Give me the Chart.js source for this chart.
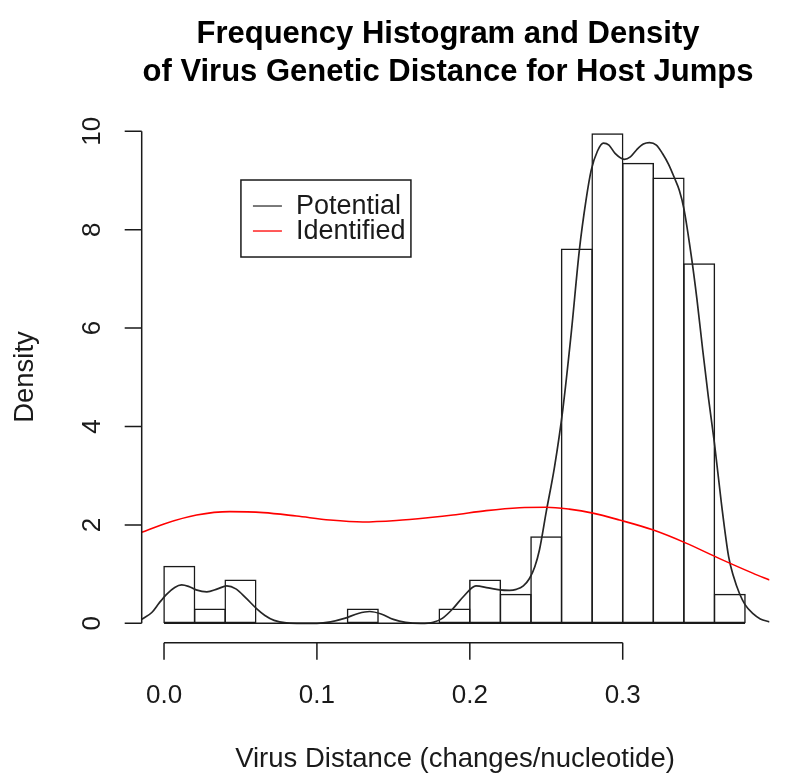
<!DOCTYPE html>
<html>
<head>
<meta charset="utf-8">
<script src="https://cdn.jsdelivr.net/npm/chart.js@4.4.1/dist/chart.umd.min.js"></script>
<style>
  html, body { margin: 0; padding: 0; background: #fff; }
  canvas { display: block; }
</style>
</head>
<body>
<canvas id="hist" width="785" height="776"></canvas>
<script>
// histogram bins (width 0.02) and their density
const binMids = [0.01, 0.03, 0.05, 0.07, 0.09, 0.11, 0.13, 0.15, 0.17, 0.19, 0.21, 0.23, 0.25, 0.27, 0.29, 0.31, 0.33, 0.35, 0.37];
const histDensity = [1.17, 0.30, 0.89, 0, 0, 0, 0.30, 0, 0, 0.30, 0.89, 0.60, 1.77, 7.62, 9.96, 9.36, 9.06, 7.32, 0.60];

// kernel density of the potential host jumps (black)
const potentialX = [-0.0146, -0.008, -0.003, 0.002, 0.007, 0.0115, 0.016, 0.021, 0.028, 0.035, 0.041, 0.047, 0.054, 0.0605, 0.066, 0.072, 0.080, 0.090, 0.100, 0.109, 0.118, 0.127, 0.1345, 0.142, 0.150, 0.158, 0.168, 0.176, 0.182, 0.189, 0.196, 0.204, 0.212, 0.2195, 0.226, 0.2304, 0.235, 0.239, 0.2425, 0.2456, 0.250, 0.2554, 0.2608, 0.2663, 0.2717, 0.276, 0.2794, 0.2835, 0.2874, 0.291, 0.295, 0.301, 0.305, 0.309, 0.3135, 0.3175, 0.322, 0.326, 0.330, 0.334, 0.337, 0.340, 0.3447, 0.3485, 0.3523, 0.356, 0.360, 0.3645, 0.3693, 0.3725, 0.3763, 0.380, 0.385, 0.390, 0.396];
const potentialY = [0.08, 0.22, 0.42, 0.60, 0.73, 0.78, 0.75, 0.68, 0.64, 0.70, 0.76, 0.70, 0.50, 0.30, 0.16, 0.06, 0.01, 0.0, 0.0, 0.03, 0.10, 0.20, 0.24, 0.19, 0.08, 0.02, 0.0, 0.02, 0.10, 0.30, 0.55, 0.76, 0.72, 0.68, 0.67, 0.69, 0.76, 0.91, 1.15, 1.50, 2.27, 3.18, 4.34, 5.89, 7.60, 8.60, 9.21, 9.60, 9.76, 9.72, 9.55, 9.43, 9.48, 9.62, 9.74, 9.77, 9.72, 9.55, 9.33, 9.04, 8.80, 8.43, 7.50, 6.60, 5.56, 4.60, 3.66, 2.45, 1.35, 0.95, 0.61, 0.38, 0.20, 0.09, 0.03];

// kernel density of the identified host jumps (red)
const identifiedX = [-0.0146, 0.0, 0.0213, 0.043, 0.065, 0.0867, 0.1084, 0.130, 0.152, 0.174, 0.189, 0.2107, 0.2325, 0.250, 0.265, 0.2804, 0.2978, 0.3196, 0.3414, 0.363, 0.385, 0.396];
const identifiedY = [1.85, 2.02, 2.20, 2.27, 2.25, 2.18, 2.10, 2.06, 2.09, 2.15, 2.20, 2.29, 2.35, 2.36, 2.32, 2.24, 2.10, 1.90, 1.63, 1.32, 1.02, 0.88];

const xTicks = [0.0, 0.1, 0.2, 0.3];
const yTicks = [0, 2, 4, 6, 8, 10];
const seriesNames = ['Potential', 'Identified'];
const titleLines = ['Frequency Histogram and Density', 'of Virus Genetic Distance for Host Jumps'];

const FONT = '"Liberation Sans", Arial, Helvetica, sans-serif';
const INK = '#1a1a1a';

const toPoints = (xs, ys) => xs.map((v, i) => ({ x: v, y: ys[i] }));

// R style base-graphics axes, titles and legend
const rDecor = {
  id: 'rDecor',
  afterDraw(chart) {
    const { ctx, chartArea, scales } = chart;
    const xs = scales.x, ys = scales.y;
    ctx.save();
    ctx.strokeStyle = INK;
    ctx.fillStyle = INK;

    // baseline under the histogram (zero bins are drawn as flat rects in R)
    const y0 = ys.getPixelForValue(0);
    ctx.lineWidth = 1.5;
    ctx.beginPath();
    ctx.moveTo(xs.getPixelForValue(binMids[0] - 0.01), y0);
    ctx.lineTo(xs.getPixelForValue(binMids[binMids.length - 1] + 0.01), y0);
    ctx.stroke();

    // x axis
    const ay = chartArea.bottom;
    ctx.beginPath();
    ctx.moveTo(xs.getPixelForValue(xTicks[0]), ay);
    ctx.lineTo(xs.getPixelForValue(xTicks[xTicks.length - 1]), ay);
    xTicks.forEach(t => {
      const px = xs.getPixelForValue(t);
      ctx.moveTo(px, ay);
      ctx.lineTo(px, ay + 17);
    });
    ctx.stroke();
    ctx.font = '26px ' + FONT;
    ctx.textAlign = 'center';
    ctx.textBaseline = 'alphabetic';
    xTicks.forEach(t => {
      ctx.fillText(t.toFixed(1), xs.getPixelForValue(t), 703);
    });

    // y axis
    const ax = chartArea.left;
    ctx.beginPath();
    ctx.moveTo(ax, ys.getPixelForValue(yTicks[0]));
    ctx.lineTo(ax, ys.getPixelForValue(yTicks[yTicks.length - 1]));
    yTicks.forEach(t => {
      const py = ys.getPixelForValue(t);
      ctx.moveTo(ax, py);
      ctx.lineTo(ax - 17, py);
    });
    ctx.stroke();
    yTicks.forEach(t => {
      ctx.save();
      ctx.translate(100, ys.getPixelForValue(t));
      ctx.rotate(-Math.PI / 2);
      ctx.fillText(String(t), 0, 0);
      ctx.restore();
    });

    // axis titles
    ctx.font = '27.5px ' + FONT;
    ctx.fillText('Virus Distance (changes/nucleotide)', 455, 767);
    ctx.save();
    ctx.translate(33, 377);
    ctx.rotate(-Math.PI / 2);
    ctx.fillText('Density', 0, 0);
    ctx.restore();

    // main title
    ctx.font = 'bold 31px ' + FONT;
    ctx.fillStyle = '#000';
    ctx.fillText(titleLines[0], 448, 43);
    ctx.fillText(titleLines[1], 448, 81);

    // legend box, anchored in data coordinates like legend(x, y)
    const lx = xs.getPixelForValue(0.0503);
    const ly = ys.getPixelForValue(9.01);
    ctx.lineWidth = 1.5;
    ctx.strokeStyle = INK;
    ctx.strokeRect(lx, ly, 170, 77);
    const colors = ['#333333', '#ff0000'];
    ctx.font = '27px ' + FONT;
    ctx.textAlign = 'left';
    ctx.textBaseline = 'middle';
    seriesNames.forEach((name, i) => {
      const ry = ly + 26 + i * 25;
      ctx.strokeStyle = colors[i];
      ctx.lineWidth = 1.3;
      ctx.beginPath();
      ctx.moveTo(lx + 12, ry);
      ctx.lineTo(lx + 41, ry);
      ctx.stroke();
      ctx.fillStyle = INK;
      ctx.fillText(name, lx + 55, ry + 1);
    });
    ctx.restore();
  }
};

const ctx = document.getElementById('hist');
new Chart(ctx, {
  type: 'bar',
  data: {
    datasets: [
      {
        type: 'bar',
        data: toPoints(binMids, histDensity),
        backgroundColor: 'rgba(0,0,0,0)',
        borderColor: INK,
        borderWidth: 1.5,
        borderSkipped: false,
        barPercentage: 1.049,
        categoryPercentage: 1,
        order: 3
      },
      {
        type: 'line',
        label: seriesNames[0],
        data: toPoints(potentialX, potentialY),
        borderColor: '#262626',
        borderWidth: 1.7,
        pointRadius: 0,
        cubicInterpolationMode: 'monotone',
        fill: false,
        order: 2
      },
      {
        type: 'line',
        label: seriesNames[1],
        data: toPoints(identifiedX, identifiedY),
        borderColor: '#ff0000',
        borderWidth: 1.6,
        pointRadius: 0,
        cubicInterpolationMode: 'monotone',
        fill: false,
        order: 1
      }
    ]
  },
  options: {
    responsive: false,
    animation: false,
    events: [],
    layout: { padding: { left: 141.7, right: 15.5, top: 119, bottom: 133.3 } },
    scales: {
      x: { type: 'linear', min: -0.0146, max: 0.396, display: false, offset: false },
      y: { type: 'linear', min: -0.394, max: 10.25, display: false }
    },
    plugins: {
      legend: { display: false },
      tooltip: { enabled: false },
      title: { display: false }
    }
  },
  plugins: [rDecor]
});
</script>
</body>
</html>
